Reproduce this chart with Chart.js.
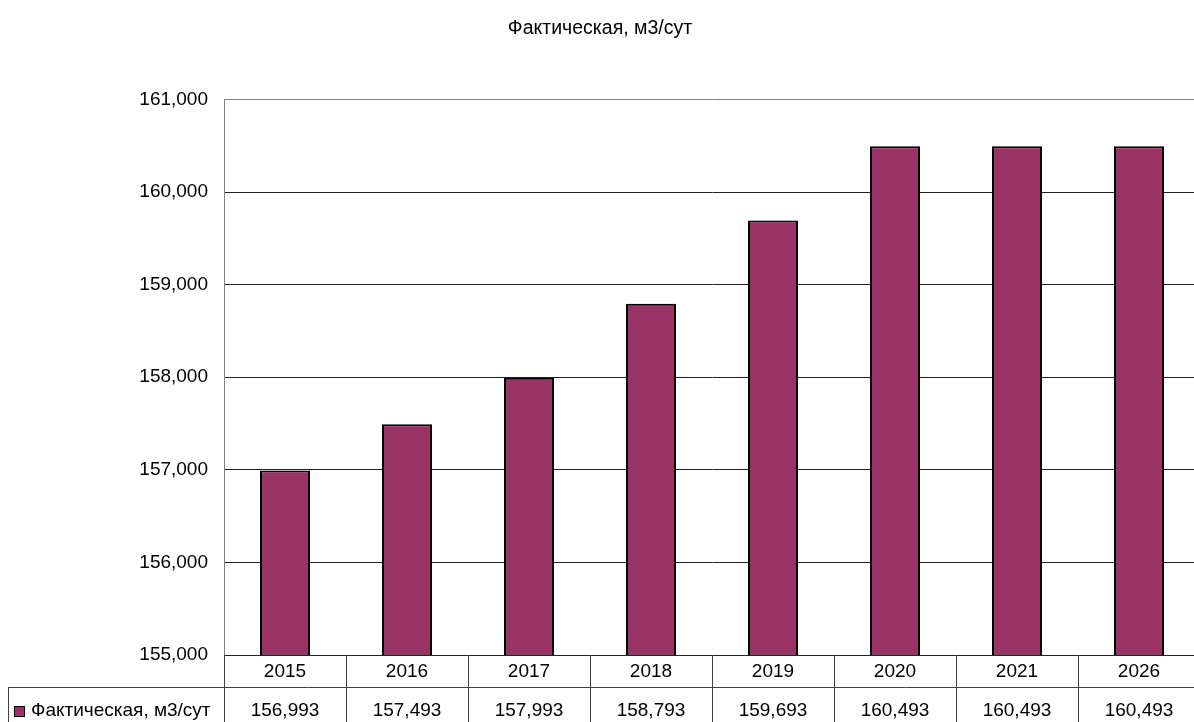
<!DOCTYPE html>
<html>
<head>
<meta charset="utf-8">
<script src="https://cdn.jsdelivr.net/npm/chart.js@4"></script>
<style>
  html, body { margin: 0; padding: 0; background: #fff; overflow: hidden; }
  #wrap { position: absolute; left: 0; top: 0; width: 1206px; height: 722px; }
</style>
</head>
<body>
<div id="wrap"><canvas id="chart"></canvas></div>
<script>
const years = ['2015', '2016', '2017', '2018', '2019', '2020', '2021', '2026'];
const values = [156993, 157493, 157993, 158793, 159693, 160493, 160493, 160493];
const seriesName = 'Фактическая, м3/сут';
const barColor = '#993366';
const FONT = 'Liberation Sans, Arial, sans-serif';

const fmt = v => Number(v).toLocaleString('en-US');

// draws the data table under the plot (Excel style)
const dataTable = {
    id: 'dataTable',
    afterDraw(chart) {
        const ctx = chart.ctx;
        const x = chart.scales.x;
        const area = chart.chartArea;
        const step = x.getPixelForValue(1) - x.getPixelForValue(0);
        const top = area.bottom;
        const rowH = 32;
        const bottom = chart.height;
        const legendLeft = 8;

        ctx.save();
        ctx.strokeStyle = '#404040';
        ctx.lineWidth = 1;
        ctx.beginPath();
        for (let i = 0; i <= years.length; i++) {
            const px = Math.round(x.getPixelForValue(i) - step / 2) + 0.5;
            ctx.moveTo(px, top);
            ctx.lineTo(px, bottom);
        }
        ctx.moveTo(legendLeft + 0.5, top + rowH);
        ctx.lineTo(legendLeft + 0.5, bottom);
        ctx.moveTo(legendLeft, top + rowH + 0.5);
        ctx.lineTo(chart.width, top + rowH + 0.5);
        ctx.stroke();

        ctx.fillStyle = '#000';
        ctx.font = '19px ' + FONT;
        ctx.textAlign = 'center';
        ctx.textBaseline = 'middle';
        years.forEach((y, i) => {
            const cx = x.getPixelForValue(i);
            ctx.fillText(y, cx, top + rowH / 2 + 1);
            ctx.fillText(fmt(values[i]), cx, top + rowH + 24);
        });

        // legend key
        const ky = top + rowH + 19;
        ctx.fillStyle = barColor;
        ctx.fillRect(legendLeft + 6.5, ky + 0.5, 10, 10);
        ctx.strokeStyle = '#000';
        ctx.strokeRect(legendLeft + 6.5, ky + 0.5, 10, 10);
        ctx.fillStyle = '#000';
        ctx.textAlign = 'left';
        ctx.fillText(seriesName, legendLeft + 23, top + rowH + 24);
        ctx.restore();
    }
};

new Chart(document.getElementById('chart'), {
    type: 'bar',
    data: {
        labels: years,
        datasets: [{
            label: seriesName,
            data: values,
            backgroundColor: barColor,
            borderColor: '#000',
            borderWidth: 2,
            borderSkipped: 'bottom',
            barPercentage: 0.41,
            categoryPercentage: 1
        }]
    },
    options: {
        responsive: true,
        maintainAspectRatio: false,
        animation: false,
        layout: { padding: { left: 0, right: 6, top: 0, bottom: 67 } },
        plugins: {
            legend: { display: false },
            tooltip: { enabled: false },
            title: {
                display: true,
                text: seriesName,
                color: '#000',
                font: { family: FONT, size: 19.5, weight: 'normal' },
                padding: { top: 17, bottom: 59 }
            }
        },
        scales: {
            x: { display: false },
            y: {
                min: 155000,
                max: 161000,
                afterFit(scale) { scale.width = 224; },
                ticks: {
                    stepSize: 1000,
                    color: '#000',
                    padding: 16,
                    font: { family: FONT, size: 19 },
                    callback: v => fmt(v)
                },
                grid: {
                    drawTicks: false,
                    color: ctx => ctx.tick && ctx.tick.value === 161000 ? '#808080' : '#222'
                },
                border: { display: true, color: '#808080', width: 1 }
            }
        }
    },
    plugins: [dataTable]
});
</script>
</body>
</html>
